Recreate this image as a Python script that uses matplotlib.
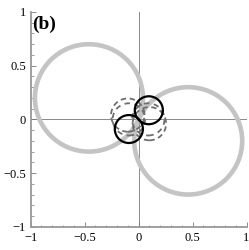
import numpy as np
import matplotlib
matplotlib.use("Agg")
import matplotlib.pyplot as plt
from matplotlib.patches import Circle

# data: circle centers (x, y) and radii
gray_cx = [-0.46, 0.46]
gray_cy = [0.20, -0.20]
gray_r = [0.50, 0.50]

black_cx = [0.095, -0.09]
black_cy = [0.085, -0.09]
black_r = [0.13, 0.13]

dash_outer_cx = [-0.10, 0.10]
dash_outer_cy = [0.04, -0.04]
dash_outer_r = [0.155, 0.155]

dash_inner_cx = [-0.09, 0.09]
dash_inner_cy = [0.00, 0.00]
dash_inner_r = [0.15, 0.15]

ticks = [-1, -0.5, 0, 0.5, 1]
tick_labels = ["\u22121", "\u22120.5", "0", "0.5", "1"]
panel_label = "(b)"

fig = plt.figure(figsize=(2.49, 2.50), dpi=100)
ax = fig.add_axes([0.123, 0.093, 0.867, 0.859])
ax.set_xlim(-1, 1)
ax.set_ylim(-1, 1)

ax.axhline(0, color="#8a8a8a", lw=0.7, zorder=1)
ax.axvline(0, color="#8a8a8a", lw=0.7, zorder=1)

for cx, cy, r in zip(gray_cx, gray_cy, gray_r):
    ax.add_patch(Circle((cx, cy), r, fill=False, ec="#c4c4c4", lw=3.3, zorder=2))
for cx, cy, r in zip(dash_outer_cx, dash_outer_cy, dash_outer_r):
    ax.add_patch(Circle((cx, cy), r, fill=False, ec="#6e6e6e", lw=1.3,
                        ls=(0, (3, 2)), zorder=3))
for cx, cy, r in zip(dash_inner_cx, dash_inner_cy, dash_inner_r):
    ax.add_patch(Circle((cx, cy), r, fill=False, ec="#6e6e6e", lw=1.3,
                        ls=(0, (3, 2.5)), zorder=3))
for cx, cy, r in zip(black_cx, black_cy, black_r):
    ax.add_patch(Circle((cx, cy), r, fill=False, ec="black", lw=1.6, zorder=4))

for s in ["top", "right"]:
    ax.spines[s].set_visible(False)
for s in ["left", "bottom"]:
    ax.spines[s].set_color("#999999")
    ax.spines[s].set_linewidth(1.3)

ax.set_xticks(ticks)
ax.set_yticks(ticks)
ax.set_xticklabels(tick_labels, family="Liberation Serif", fontsize=9)
ax.set_yticklabels(tick_labels, family="Liberation Serif", fontsize=9)
ax.set_xticks(np.arange(-1, 1.01, 0.1), minor=True)
ax.set_yticks(np.arange(-1, 1.01, 0.1), minor=True)
ax.tick_params(which="major", direction="in", length=3.5, width=0.6, color="#777777")
ax.tick_params(axis="x", which="major", pad=3.5)
ax.tick_params(axis="y", which="major", pad=3.5)
ax.tick_params(which="minor", direction="in", length=1.8, width=0.5, color="#777777")

ax.text(0.005, 0.985, panel_label, transform=ax.transAxes, ha="left", va="top",
        family="Liberation Serif", fontweight="bold", fontsize=14)

fig.savefig("out.png", dpi=100)
